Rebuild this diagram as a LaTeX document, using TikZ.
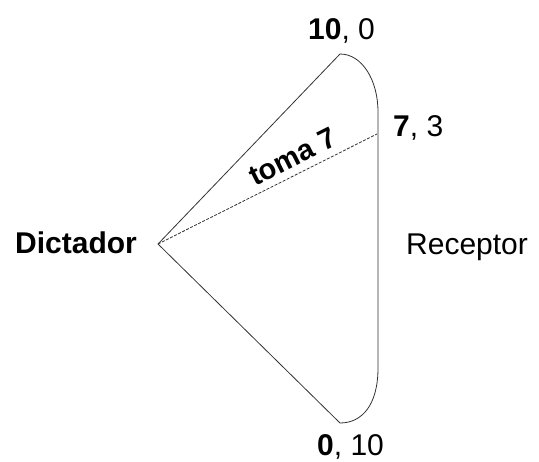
\documentclass[tikz,border=0pt]{standalone}
\usepackage{fontspec}
\setmainfont{Liberation Sans}
\begin{document}
\begin{tikzpicture}[x=1pt,y=-1pt,
  lbl/.style={inner sep=0pt,anchor=base west,font=\fontsize{30}{35}\selectfont},
  edge/.style={draw=black!80,line width=0.8pt}]
\useasboundingbox (0,0) rectangle (539,462);
\coordinate (A) at (158,244);
\coordinate (T) at (340,54);
\coordinate (B) at (340,423);
\coordinate (M) at (377,134);
\coordinate (R1) at (378,112);
\coordinate (R2) at (378,368);
\node[lbl] (dic) at (15,254) {\textbf{Dictador}};
\node[lbl] (rec) at (406,255) {Receptor};
\node[lbl] (top) at (308,40) {\textbf{10}, 0};
\node[lbl] (mid) at (393,137) {\textbf{7}, 3};
\node[lbl] (bot) at (317,456) {\textbf{0}, 10};
\draw[edge] (A) -- (T);
\draw[edge] (A) -- (B);
\draw[edge] (T) .. controls (362,54) and (378,80) .. (R1) -- (R2) .. controls (378,405) and (362,423) .. (B);
\draw[black!80,line width=0.8pt,dash pattern=on 3pt off 1.5pt] (A) -- (M)
  node[pos=0.65,sloped,above=7pt,inner sep=0pt,text=black,font=\fontsize{29}{34}\selectfont\bfseries] (toma) {toma 7};
\end{tikzpicture}
\end{document}
